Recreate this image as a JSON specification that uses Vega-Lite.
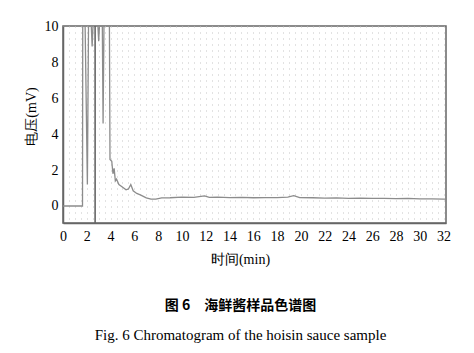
{
  "$schema": "https://vega.github.io/schema/vega-lite/v6.json",
  "width": 383,
  "height": 197,
  "autosize": {"type": "none"},
  "padding": {"left": 63, "top": 26, "right": 28, "bottom": 130},
  "background": "white",
  "config": {
    "view": {"stroke": "#666", "strokeWidth": 1.5}
  },
  "title": {
    "text": "图 6　海鲜酱样品色谱图",
    "subtitle": "Fig. 6 Chromatogram of the hoisin sauce sample",
    "orient": "bottom",
    "anchor": "middle",
    "frame": "group",
    "dx": -14,
    "offset": 33,
    "font": "Noto Sans CJK SC",
    "fontSize": 14,
    "fontWeight": "bold",
    "color": "#000",
    "subtitleFont": "Liberation Serif",
    "subtitleFontSize": 15,
    "subtitleColor": "#000",
    "subtitlePadding": 15
  },
  "datasets": {
    "trace": [
      {"t": 0, "v": 0}, {"t": 1.64, "v": 0}, {"t": 1.66, "v": 10.5}, {"t": 1.85, "v": 10.5},
      {"t": 2.05, "v": 1.2}, {"t": 2.15, "v": 10.5}, {"t": 2.35, "v": 10.5}, {"t": 2.45, "v": 8.9},
      {"t": 2.55, "v": 10.5}, {"t": 2.68, "v": 10.5}, {"t": 2.9, "v": 10.5}, {"t": 3.0, "v": 9.2},
      {"t": 3.1, "v": 10.5}, {"t": 3.3, "v": 10.5}, {"t": 3.37, "v": 4.6}, {"t": 3.45, "v": 10.5},
      {"t": 3.9, "v": 10.5}, {"t": 3.95, "v": 2.6}, {"t": 4.1, "v": 2.5}, {"t": 4.2, "v": 1.8},
      {"t": 4.3, "v": 2.1}, {"t": 4.4, "v": 1.4}, {"t": 4.5, "v": 1.5}, {"t": 4.7, "v": 1.2},
      {"t": 4.9, "v": 1.1}, {"t": 5.1, "v": 1.0}, {"t": 5.3, "v": 0.9}, {"t": 5.5, "v": 0.95},
      {"t": 5.7, "v": 1.2}, {"t": 5.9, "v": 0.85}, {"t": 6.2, "v": 0.7}, {"t": 6.5, "v": 0.62},
      {"t": 7.0, "v": 0.45}, {"t": 7.4, "v": 0.38}, {"t": 7.8, "v": 0.38}, {"t": 8.3, "v": 0.45},
      {"t": 9, "v": 0.46}, {"t": 10, "v": 0.5}, {"t": 11, "v": 0.48}, {"t": 11.9, "v": 0.56},
      {"t": 12.3, "v": 0.48}, {"t": 13, "v": 0.5}, {"t": 14, "v": 0.47}, {"t": 15, "v": 0.48},
      {"t": 16, "v": 0.46}, {"t": 17, "v": 0.47}, {"t": 18, "v": 0.47}, {"t": 18.9, "v": 0.5},
      {"t": 19.4, "v": 0.58}, {"t": 19.9, "v": 0.47}, {"t": 21, "v": 0.46}, {"t": 22, "v": 0.44},
      {"t": 23, "v": 0.45}, {"t": 24, "v": 0.43}, {"t": 25, "v": 0.44}, {"t": 26, "v": 0.42},
      {"t": 27, "v": 0.43}, {"t": 28, "v": 0.41}, {"t": 29, "v": 0.42}, {"t": 30, "v": 0.4},
      {"t": 31, "v": 0.4}, {"t": 32, "v": 0.38}, {"t": 32.2, "v": 0.38}
    ],
    "marker": [{"t": 2.7}]
  },
  "layer": [
    {
      "data": {"name": "trace"},
      "mark": {"type": "line", "clip": true, "color": "#8c8c8c", "strokeWidth": 1.3},
      "encoding": {
        "x": {
          "field": "t", "type": "quantitative",
          "scale": {"domain": [0, 32.2], "nice": false, "zero": false},
          "axis": {
            "values": [0, 2, 4, 6, 8, 10, 12, 14, 16, 18, 20, 22, 24, 26, 28, 30, 32],
            "format": "d",
            "labelOverlap": false,
            "labelFlush": false,
            "title": "时间(min)",
            "titleFont": "Liberation Serif",
            "titleFontSize": 14,
            "titleFontWeight": "normal",
            "titleColor": "#000",
            "titleX": 177,
            "titlePadding": 9,
            "labelFont": "Liberation Serif",
            "labelFontSize": 14,
            "labelColor": "#000",
            "labelPadding": 6,
            "ticks": false,
            "grid": false,
            "domainColor": "#666",
            "domainWidth": 1.5
          }
        },
        "y": {
          "field": "v", "type": "quantitative",
          "scale": {"domain": [-0.95, 10.05], "nice": false, "zero": false},
          "axis": {
            "values": [0, 2, 4, 6, 8, 10],
            "format": "d",
            "labelFlush": false,
            "labelOverlap": false,
            "title": "电压(mV)",
            "titleFont": "Liberation Serif",
            "titleFontSize": 14,
            "titleFontWeight": "normal",
            "titleColor": "#000",
            "titleY": 90,
            "titlePadding": 6,
            "labelFont": "Liberation Serif",
            "labelFontSize": 14,
            "labelColor": "#000",
            "labelPadding": 5,
            "ticks": false,
            "grid": false,
            "domainColor": "#666",
            "domainWidth": 1.5
          }
        }
      }
    },
    {
      "data": {"name": "marker"},
      "mark": {"type": "rule", "color": "#666", "strokeWidth": 1.6},
      "encoding": {
        "x": {
          "field": "t", "type": "quantitative",
          "axis": {
            "orient": "top",
            "tickCount": 64,
            "labels": false,
            "ticks": false,
            "domain": false,
            "title": null,
            "grid": true,
            "gridColor": "#c4c4c4",
            "gridDash": [1, 5],
            "gridWidth": 1
          }
        }
      }
    }
  ],
  "resolve": {"axis": {"x": "independent"}}
}
